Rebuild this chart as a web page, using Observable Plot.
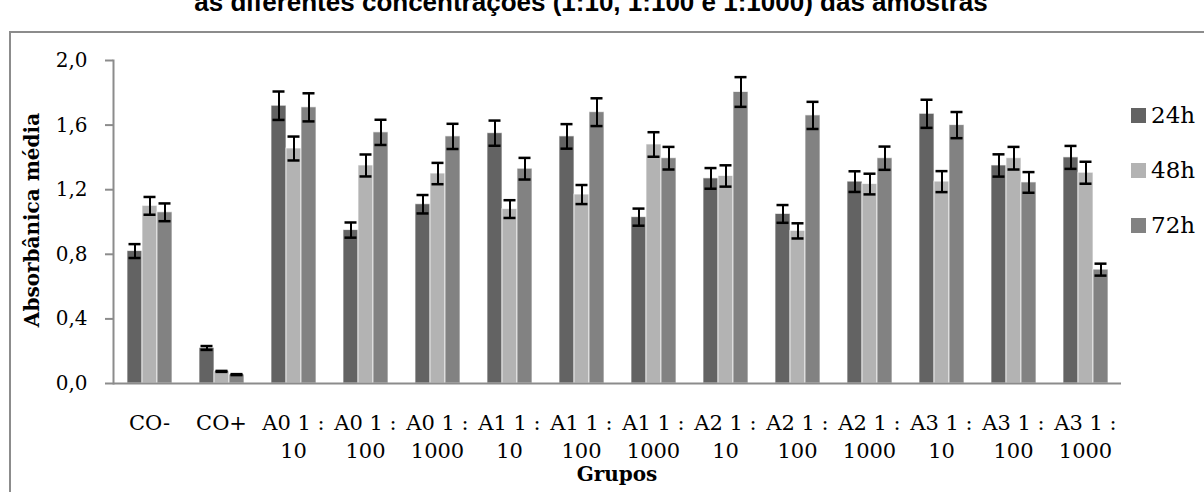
<!DOCTYPE html>
<html><head><meta charset="utf-8">
<script src="https://cdn.jsdelivr.net/npm/d3@7"></script>
<script src="https://cdn.jsdelivr.net/npm/@observablehq/plot@0.6"></script>
<style>
body{margin:0;background:#fff;}
#wrap{position:relative;width:1204px;height:492px;overflow:hidden;background:#fff;}
#frame{position:absolute;left:9px;top:31px;width:1300px;height:600px;border:2px solid #8c8c8c;box-sizing:border-box;}
#title{position:absolute;left:0;width:1182px;top:-11px;text-align:center;font:bold 26px "Liberation Sans",Arial,sans-serif;line-height:26px;white-space:nowrap;color:#000;}
#chart{position:absolute;left:0;top:0;}
#ylabel{position:absolute;left:32px;top:220px;transform:translate(-50%,-50%) rotate(-90deg);font:bold 20px "DejaVu Serif",serif;white-space:nowrap;color:#000;}
#xlabel{position:absolute;left:617px;top:474px;transform:translate(-50%,-50%);font:bold 20px "DejaVu Serif",serif;white-space:nowrap;color:#000;}
#legend{position:absolute;left:1131px;top:0;font:23px "DejaVu Serif",serif;color:#000;}
.row{position:absolute;left:0;display:flex;align-items:center;white-space:nowrap;transform:translateY(-50%);}
.sw{width:15px;height:15px;margin-right:5px;}
</style></head><body>
<div id="wrap">
 <div id="frame"></div>
 <div id="title">as diferentes concentrações (1:10, 1:100 e 1:1000) das amostras</div>
 <div id="chart"></div>
 <div id="ylabel">Absorbânica média</div>
 <div id="xlabel">Grupos</div>
 <div id="legend"></div>
</div>
<script>
const groups = ["CO-","CO+","A0 1:10","A0 1:100","A0 1:1000","A1 1:10","A1 1:100","A1 1:1000","A2 1:10","A2 1:100","A2 1:1000","A3 1:10","A3 1:100","A3 1:1000"];
const tickLabels = ["CO-","CO+","A0 1 :\n10","A0 1 :\n100","A0 1 :\n1000","A1 1 :\n10","A1 1 :\n100","A1 1 :\n1000","A2 1 :\n10","A2 1 :\n100","A2 1 :\n1000","A3 1 :\n10","A3 1 :\n100","A3 1 :\n1000"];
const series = ["24h","48h","72h"];
const colors = ["#636363","#b3b3b3","#828282"];
const values24 = [0.82,0.22,1.72,0.95,1.11,1.55,1.53,1.03,1.27,1.05,1.25,1.67,1.35,1.40];
const values48 = [1.10,0.075,1.455,1.35,1.30,1.08,1.17,1.48,1.285,0.945,1.235,1.25,1.395,1.305];
const values72 = [1.06,0.055,1.71,1.555,1.53,1.33,1.68,1.395,1.805,1.66,1.395,1.60,1.245,0.705];
const err24 = [0.043,0.012,0.088,0.047,0.057,0.078,0.076,0.053,0.064,0.055,0.064,0.087,0.069,0.071];
const err48 = [0.055,0.003,0.074,0.068,0.066,0.055,0.059,0.076,0.066,0.047,0.064,0.065,0.070,0.068];
const err72 = [0.055,0.003,0.087,0.078,0.078,0.067,0.086,0.070,0.092,0.084,0.072,0.081,0.064,0.037];
const yTicks = [0,0.4,0.8,1.2,1.6,2.0];

const vals = [values24, values48, values72];
const errs = [err24, err48, err72];
const data = groups.flatMap((g, i) => series.map((s, j) => ({group: g, series: s, value: vals[j][i], err: errs[j][i]})));

const font = "DejaVu Serif";
const plot = Plot.plot({
  width: 1204, height: 492,
  marginLeft: 109, marginRight: 79, marginTop: 60, marginBottom: 109,
  style: {fontFamily: font, fontSize: "20px", color: "#000", background: "transparent", overflow: "visible"},
  fx: {domain: groups, padding: 0, label: null},
  x: {domain: series, paddingInner: 0, paddingOuter: 0.768, axis: null},
  y: {domain: [0, 2], label: null},
  color: {domain: series, range: colors},
  marks: [
    Plot.barY(data, {fx: "group", x: "series", y: "value", fill: "series", stroke: "#ffffff", strokeOpacity: 0.7, strokeWidth: 1}),
    Plot.ruleX(data, {fx: "group", x: "series", y1: d => d.value - d.err, y2: d => d.value + d.err, stroke: "#000", strokeWidth: 2}),
    Plot.tickY(data, {fx: "group", x: "series", y: d => d.value + d.err, stroke: "#000", strokeWidth: 2.5, insetLeft: 1.5, insetRight: 1.5}),
    Plot.tickY(data, {fx: "group", x: "series", y: d => d.value - d.err, stroke: "#000", strokeWidth: 2.5, insetLeft: 1.5, insetRight: 1.5}),
    Plot.ruleY([0], {stroke: "#8c8c8c", strokeWidth: 2}),
    Plot.frame({anchor: "left", facetAnchor: "left", stroke: "#8c8c8c", strokeWidth: 2}),
    Plot.axisY({ticks: yTicks, tickSize: 8, tickPadding: 18, tickFormat: d => d.toFixed(1).replace(".", ","), stroke: "#8c8c8c", strokeOpacity: 1, strokeWidth: 2, fontSize: 20, label: null}),
    Plot.axisFx({anchor: "bottom", tickSize: 0, tickPadding: 26, tickFormat: d => tickLabels[groups.indexOf(d)], lineHeight: 1.35, fontSize: 21, label: null})
  ]
});
document.getElementById("chart").appendChild(plot);

const legend = document.getElementById("legend");
const legendY = [115, 170, 225];
series.forEach((s, i) => {
  const row = document.createElement("div");
  row.className = "row";
  row.style.top = legendY[i] + "px";
  const sw = document.createElement("div");
  sw.className = "sw";
  sw.style.background = colors[i];
  const t = document.createElement("span");
  t.textContent = s;
  row.appendChild(sw); row.appendChild(t);
  legend.appendChild(row);
});
</script>
</body></html>
